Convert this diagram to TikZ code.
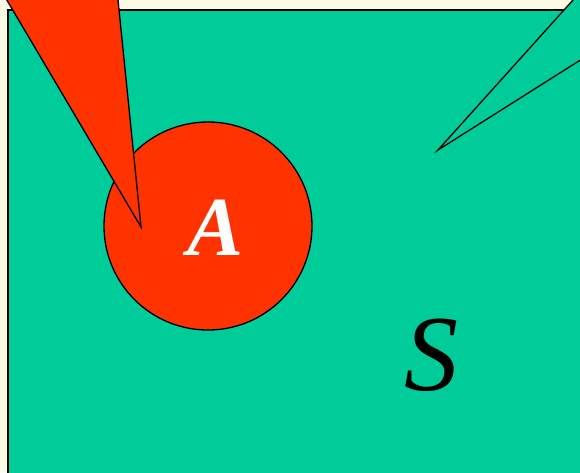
\documentclass[tikz,border=0pt]{standalone}
\usepackage{fontspec}
\setmainfont{Liberation Serif}
\definecolor{cream}{RGB}{252,250,228}
\definecolor{sgreen}{RGB}{0,204,153}
\definecolor{ared}{RGB}{255,51,0}
\begin{document}
\begin{tikzpicture}[x=1pt,y=-1pt, line join=miter,
  outline/.style={draw=black,line width=1.3pt},
  letter/.style={inner sep=0pt, anchor=center}]
\useasboundingbox (0,0) rectangle (580,472);
\clip (0,0) rectangle (580,472);
\fill[cream] (0,0) rectangle (580,472);
\draw[outline, fill=sgreen, line width=1.5pt] (8,10) rectangle (600,490);
\node[circle, outline, fill=ared, minimum size=208pt, inner sep=0pt] (circA) at (208,226) {};
\draw[outline, fill=ared] (-5,-20) -- (141,227) -- (116,-20) -- cycle;
\draw[outline, fill=sgreen] (620,35) -- (438,150) -- (591,-20) -- (620,-20);
\node[letter, text=white] (labelA) at (216,228) {\fontsize{84}{84}\selectfont\bfseries\itshape A};
\node[letter, text=black] (labelS) at (431,355) {\fontsize{108}{108}\selectfont\itshape S};
\end{tikzpicture}
\end{document}
